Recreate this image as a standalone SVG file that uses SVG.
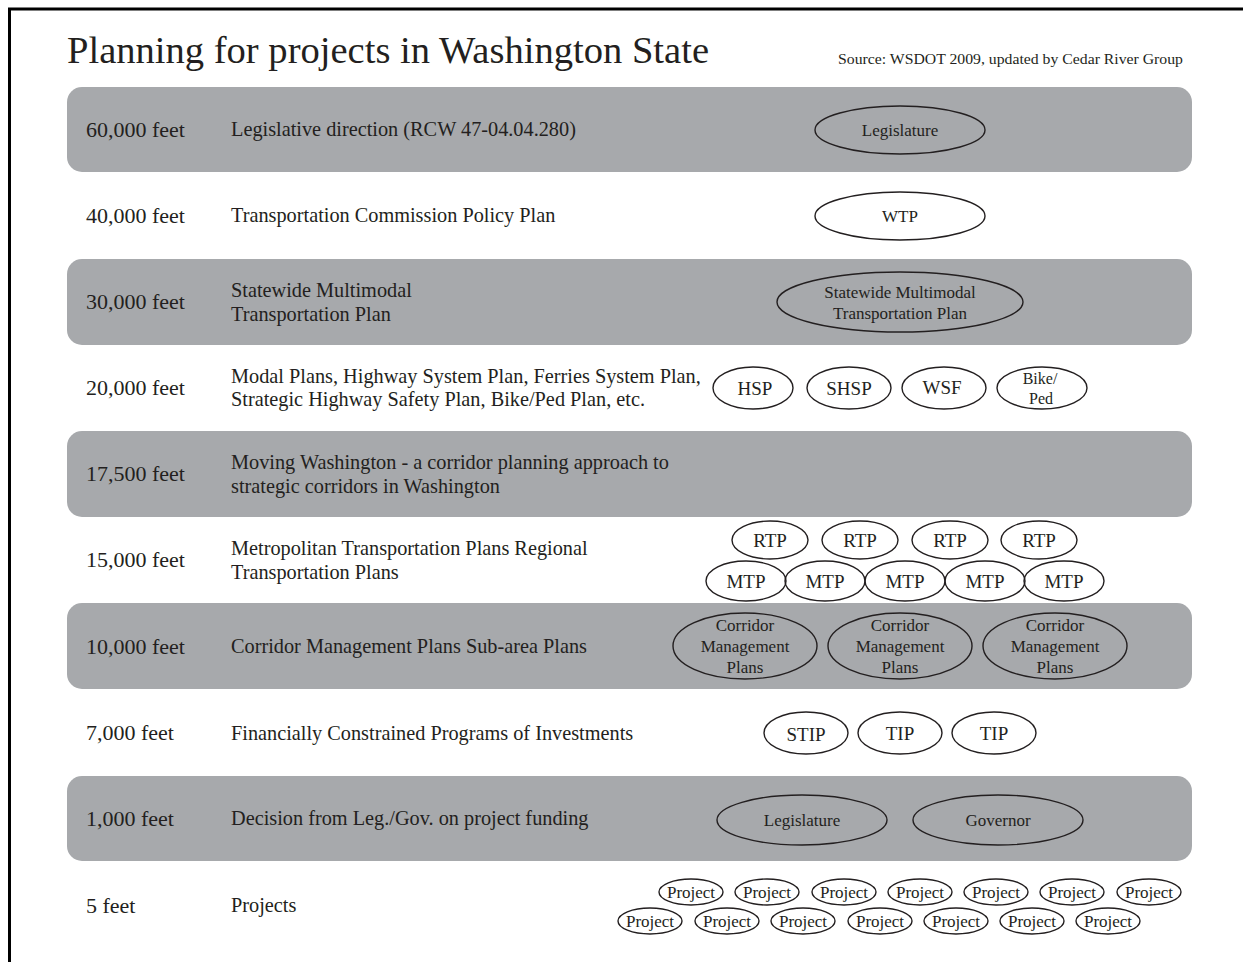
<svg xmlns="http://www.w3.org/2000/svg" width="1243" height="962" viewBox="0 0 1243 962">
<style>
.band{fill:#a7a9ac}
.t{font-family:"Liberation Serif","Times New Roman",serif;fill:#231f20}
.lab{font-size:22px}
.desc{font-size:20.3px}
.el{fill:none;stroke:#231f20;stroke-width:1.4}
.et{font-size:17px;text-anchor:middle}
.ea{font-size:19px;text-anchor:middle}
.es{font-size:16px;text-anchor:middle}
.ep{font-size:17px;text-anchor:middle}
</style>
<rect x="0" y="0" width="1243" height="962" fill="#ffffff"/>
<g id="frame" stroke="#000" stroke-width="3">
<line x1="9.5" y1="8" x2="9.5" y2="962"/>
<line x1="8" y1="9" x2="1243" y2="9"/>
</g>
<g id="title">
<text class="t" x="67" y="63" font-size="37" textLength="642" lengthAdjust="spacingAndGlyphs">Planning for projects in Washington State</text>
<text class="t" x="838" y="64" font-size="14.5" textLength="345" lengthAdjust="spacingAndGlyphs">Source: WSDOT 2009, updated by Cedar River Group</text>
</g>
<g id="bands">
<rect class="band" x="67" y="87" width="1125" height="85" rx="15"/>
<rect class="band" x="67" y="259" width="1125" height="86" rx="15"/>
<rect class="band" x="67" y="431" width="1125" height="86" rx="15"/>
<rect class="band" x="67" y="603" width="1125" height="86" rx="15"/>
<rect class="band" x="67" y="776" width="1125" height="85" rx="15"/>
</g>
<g id="row-60000">
<text class="t lab" x="86" y="137">60,000 feet</text>
<text class="t desc" x="231" y="136">Legislative direction (RCW 47-04.04.280)</text>
</g>
<g id="row-40000">
<text class="t lab" x="86" y="223">40,000 feet</text>
<text class="t desc" x="231" y="222">Transportation Commission Policy Plan</text>
</g>
<g id="row-30000">
<text class="t lab" x="86" y="309">30,000 feet</text>
<text class="t desc" x="231" y="297">Statewide Multimodal</text>
<text class="t desc" x="231" y="321">Transportation Plan</text>
</g>
<g id="row-20000">
<text class="t lab" x="86" y="395">20,000 feet</text>
<text class="t desc" x="231" y="383">Modal Plans, Highway System Plan, Ferries System Plan,</text>
<text class="t desc" x="231" y="406">Strategic Highway Safety Plan, Bike/Ped Plan, etc.</text>
</g>
<g id="row-17500">
<text class="t lab" x="86" y="481">17,500 feet</text>
<text class="t desc" x="231" y="469">Moving Washington - a corridor planning approach to</text>
<text class="t desc" x="231" y="493">strategic corridors in Washington</text>
</g>
<g id="row-15000">
<text class="t lab" x="86" y="567">15,000 feet</text>
<text class="t desc" x="231" y="555">Metropolitan Transportation Plans Regional</text>
<text class="t desc" x="231" y="579">Transportation Plans</text>
</g>
<g id="row-10000">
<text class="t lab" x="86" y="654">10,000 feet</text>
<text class="t desc" x="231" y="653">Corridor Management Plans Sub-area Plans</text>
</g>
<g id="row-7000">
<text class="t lab" x="86" y="740">7,000 feet</text>
<text class="t desc" x="231" y="740">Financially Constrained Programs of Investments</text>
</g>
<g id="row-1000">
<text class="t lab" x="86" y="826">1,000 feet</text>
<text class="t desc" x="231" y="825">Decision from Leg./Gov. on project funding</text>
</g>
<g id="row-5">
<text class="t lab" x="86" y="913">5 feet</text>
<text class="t desc" x="231" y="912">Projects</text>
</g>
<g id="n-legislature-top"><ellipse class="el" cx="900" cy="130" rx="85" ry="24"/><text class="t et" x="900" y="136">Legislature</text></g>
<g id="n-wtp"><ellipse class="el" cx="900" cy="216" rx="85" ry="24"/><text class="t et" x="900" y="222">WTP</text></g>
<g id="n-smtp"><ellipse class="el" cx="900" cy="302" rx="123" ry="30"/><text class="t et" x="900" y="298">Statewide Multimodal</text><text class="t et" x="900" y="319">Transportation Plan</text></g>
<g id="n-hsp"><ellipse class="el" cx="753" cy="388" rx="40" ry="21"/><text class="t ea" x="755" y="395">HSP</text></g>
<g id="n-shsp"><ellipse class="el" cx="849" cy="388" rx="42" ry="21"/><text class="t ea" x="849" y="395">SHSP</text></g>
<g id="n-wsf"><ellipse class="el" cx="944" cy="388" rx="42" ry="21"/><text class="t ea" x="942" y="394">WSF</text></g>
<g id="n-bikeped"><ellipse class="el" cx="1042" cy="388" rx="45" ry="21"/><text class="t es" x="1040" y="384">Bike/</text><text class="t es" x="1041" y="404">Ped</text></g>
<g id="n-rtp1"><ellipse class="el" cx="770" cy="540" rx="38" ry="19"/><text class="t ea" x="770" y="547">RTP</text></g>
<g id="n-rtp2"><ellipse class="el" cx="860" cy="540" rx="38" ry="19"/><text class="t ea" x="860" y="547">RTP</text></g>
<g id="n-rtp3"><ellipse class="el" cx="950" cy="540" rx="38" ry="19"/><text class="t ea" x="950" y="547">RTP</text></g>
<g id="n-rtp4"><ellipse class="el" cx="1039" cy="540" rx="38" ry="19"/><text class="t ea" x="1039" y="547">RTP</text></g>
<g id="n-mtp1"><ellipse class="el" cx="746" cy="581" rx="40" ry="20"/><text class="t ea" x="746" y="588">MTP</text></g>
<g id="n-mtp2"><ellipse class="el" cx="825" cy="581" rx="40" ry="20"/><text class="t ea" x="825" y="588">MTP</text></g>
<g id="n-mtp3"><ellipse class="el" cx="905" cy="581" rx="40" ry="20"/><text class="t ea" x="905" y="588">MTP</text></g>
<g id="n-mtp4"><ellipse class="el" cx="985" cy="581" rx="40" ry="20"/><text class="t ea" x="985" y="588">MTP</text></g>
<g id="n-mtp5"><ellipse class="el" cx="1064" cy="581" rx="40" ry="20"/><text class="t ea" x="1064" y="588">MTP</text></g>
<g id="n-cmp1"><ellipse class="el" cx="745" cy="646" rx="72" ry="33"/><text class="t et" x="745" y="631">Corridor</text><text class="t et" x="745" y="652">Management</text><text class="t et" x="745" y="673">Plans</text></g>
<g id="n-cmp2"><ellipse class="el" cx="900" cy="646" rx="72" ry="33"/><text class="t et" x="900" y="631">Corridor</text><text class="t et" x="900" y="652">Management</text><text class="t et" x="900" y="673">Plans</text></g>
<g id="n-cmp3"><ellipse class="el" cx="1055" cy="646" rx="72" ry="33"/><text class="t et" x="1055" y="631">Corridor</text><text class="t et" x="1055" y="652">Management</text><text class="t et" x="1055" y="673">Plans</text></g>
<g id="n-stip"><ellipse class="el" cx="806" cy="733" rx="42" ry="21"/><text class="t ea" x="806" y="741">STIP</text></g>
<g id="n-tip1"><ellipse class="el" cx="900" cy="733" rx="42" ry="21"/><text class="t ea" x="900" y="740">TIP</text></g>
<g id="n-tip2"><ellipse class="el" cx="994" cy="733" rx="42" ry="21"/><text class="t ea" x="994" y="740">TIP</text></g>
<g id="n-legislature"><ellipse class="el" cx="802" cy="820" rx="85" ry="25"/><text class="t et" x="802" y="826">Legislature</text></g>
<g id="n-governor"><ellipse class="el" cx="998" cy="820" rx="85" ry="25"/><text class="t et" x="998" y="826">Governor</text></g>
<g id="n-project-r1c1"><ellipse class="el" cx="691" cy="892" rx="32" ry="13"/><text class="t ep" x="691" y="898">Project</text></g>
<g id="n-project-r1c2"><ellipse class="el" cx="767" cy="892" rx="32" ry="13"/><text class="t ep" x="767" y="898">Project</text></g>
<g id="n-project-r1c3"><ellipse class="el" cx="844" cy="892" rx="32" ry="13"/><text class="t ep" x="844" y="898">Project</text></g>
<g id="n-project-r1c4"><ellipse class="el" cx="920" cy="892" rx="32" ry="13"/><text class="t ep" x="920" y="898">Project</text></g>
<g id="n-project-r1c5"><ellipse class="el" cx="996" cy="892" rx="32" ry="13"/><text class="t ep" x="996" y="898">Project</text></g>
<g id="n-project-r1c6"><ellipse class="el" cx="1072" cy="892" rx="32" ry="13"/><text class="t ep" x="1072" y="898">Project</text></g>
<g id="n-project-r1c7"><ellipse class="el" cx="1149" cy="892" rx="32" ry="13"/><text class="t ep" x="1149" y="898">Project</text></g>
<g id="n-project-r2c1"><ellipse class="el" cx="650" cy="921" rx="32" ry="13"/><text class="t ep" x="650" y="927">Project</text></g>
<g id="n-project-r2c2"><ellipse class="el" cx="727" cy="921" rx="32" ry="13"/><text class="t ep" x="727" y="927">Project</text></g>
<g id="n-project-r2c3"><ellipse class="el" cx="803" cy="921" rx="32" ry="13"/><text class="t ep" x="803" y="927">Project</text></g>
<g id="n-project-r2c4"><ellipse class="el" cx="880" cy="921" rx="32" ry="13"/><text class="t ep" x="880" y="927">Project</text></g>
<g id="n-project-r2c5"><ellipse class="el" cx="956" cy="921" rx="32" ry="13"/><text class="t ep" x="956" y="927">Project</text></g>
<g id="n-project-r2c6"><ellipse class="el" cx="1032" cy="921" rx="32" ry="13"/><text class="t ep" x="1032" y="927">Project</text></g>
<g id="n-project-r2c7"><ellipse class="el" cx="1108" cy="921" rx="32" ry="13"/><text class="t ep" x="1108" y="927">Project</text></g>
<g id="connectors"/>
</svg>
